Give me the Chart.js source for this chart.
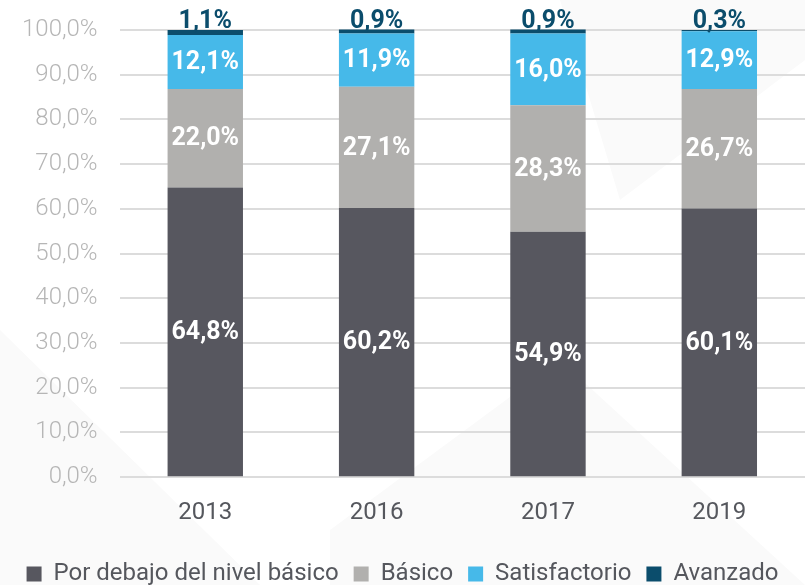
<!DOCTYPE html>
<html>
<head>
<meta charset="utf-8">
<script src="https://cdn.jsdelivr.net/npm/chart.js@4"></script>
<style>
  html, body { margin: 0; padding: 0; background: #ffffff; }
  #wrap { width: 805px; height: 585px; }
</style>
</head>
<body>
<div id="wrap"><canvas id="nivelesChart" width="805" height="585"></canvas></div>
<script>
const years = ['2013', '2016', '2017', '2019'];
const porDebajo = [64.8, 60.2, 54.9, 60.1];
const basico = [22.0, 27.1, 28.3, 26.7];
const satisfactorio = [12.1, 11.9, 16.0, 12.9];
const avanzado = [1.1, 0.9, 0.9, 0.3];
const seriesNames = ['Por debajo del nivel básico', 'Básico', 'Satisfactorio', 'Avanzado'];
const seriesColors = ['#57575f', '#b1b0ae', '#46b9e9', '#0b4d6c'];

const fmt = v => v.toFixed(1).replace('.', ',') + '%';

// faint diagonal bands behind the chart
const bgBands = {
  id: 'bgBands',
  beforeDraw(chart) {
    const c = chart.ctx;
    c.save();
    c.fillStyle = '#fafafa';
    c.beginPath();
    c.moveTo(0, 330); c.lineTo(260, 585); c.lineTo(0, 585); c.closePath(); c.fill();
    c.beginPath();
    c.moveTo(560, 0); c.lineTo(805, 0); c.lineTo(805, 60); c.lineTo(620, 200); c.closePath(); c.fill();
    c.beginPath();
    c.moveTo(330, 585); c.lineTo(330, 530); c.lineTo(560, 360); c.lineTo(805, 585); c.closePath(); c.fill();
    c.restore();
  }
};

// keep the legend tight against the bottom edge
const legendHeight = {
  id: 'legendHeight',
  beforeInit(chart) {
    const legend = chart.legend;
    if (!legend) return;
    const origFit = legend.fit;
    legend.fit = function() {
      origFit.call(this);
      this.height = 38;
    };
  }
};

const valueLabels = {
  id: 'valueLabels',
  afterDatasetsDraw(chart) {
    const c = chart.ctx;
    c.save();
    c.font = 'bold 25px Roboto, sans-serif';
    c.textAlign = 'center';
    chart.data.datasets.forEach((ds, i) => {
      const meta = chart.getDatasetMeta(i);
      meta.data.forEach((bar, j) => {
        const { x, y, base } = bar.getProps(['x', 'y', 'base'], true);
        const txt = fmt(ds.data[j]);
        if (i === 3) {
          c.fillStyle = '#0b4d6c';
          c.textBaseline = 'alphabetic';
          c.fillText(txt, x, y - 2);
        } else {
          c.fillStyle = '#ffffff';
          c.textBaseline = 'middle';
          c.fillText(txt, x, (y + base) / 2 + 1);
        }
      });
    });
    c.restore();
  }
};

const ctx = document.getElementById('nivelesChart').getContext('2d');
new Chart(ctx, {
  type: 'bar',
  data: {
    labels: years,
    datasets: [porDebajo, basico, satisfactorio, avanzado].map((d, i) => ({
      label: seriesNames[i],
      data: d,
      backgroundColor: seriesColors[i],
      borderWidth: 0,
      barPercentage: 0.44,
      categoryPercentage: 1.0,
      clip: false
    }))
  },
  options: {
    responsive: false,
    animation: false,
    layout: { padding: { left: 0, right: 0, top: 30, bottom: 0 } },
    plugins: {
      tooltip: { enabled: false },
      legend: {
        position: 'bottom',
        labels: {
          color: '#55575d',
          font: { family: 'Roboto, sans-serif', size: 24 },
          boxWidth: 15,
          boxHeight: 15,
          padding: 15
        }
      }
    },
    scales: {
      x: {
        stacked: true,
        grid: { display: false, drawTicks: false },
        border: { display: false },
        ticks: { color: '#55575d', font: { family: 'Roboto, sans-serif', size: 24 }, padding: 21 },
        afterFit: axis => { axis.height -= 1; }
      },
      y: {
        stacked: true,
        min: 0,
        max: 100,
        grid: { color: '#dcdcdc', lineWidth: 2, drawTicks: false },
        border: { display: false },
        ticks: {
          stepSize: 10,
          padding: 22,
          color: '#b6b6b6',
          font: { family: 'Roboto, sans-serif', size: 24, weight: 300 },
          callback: v => fmt(v)
        },
        afterFit: axis => { axis.paddingTop = 0; }
      }
    }
  },
  plugins: [bgBands, legendHeight, valueLabels]
});
</script>
</body>
</html>
